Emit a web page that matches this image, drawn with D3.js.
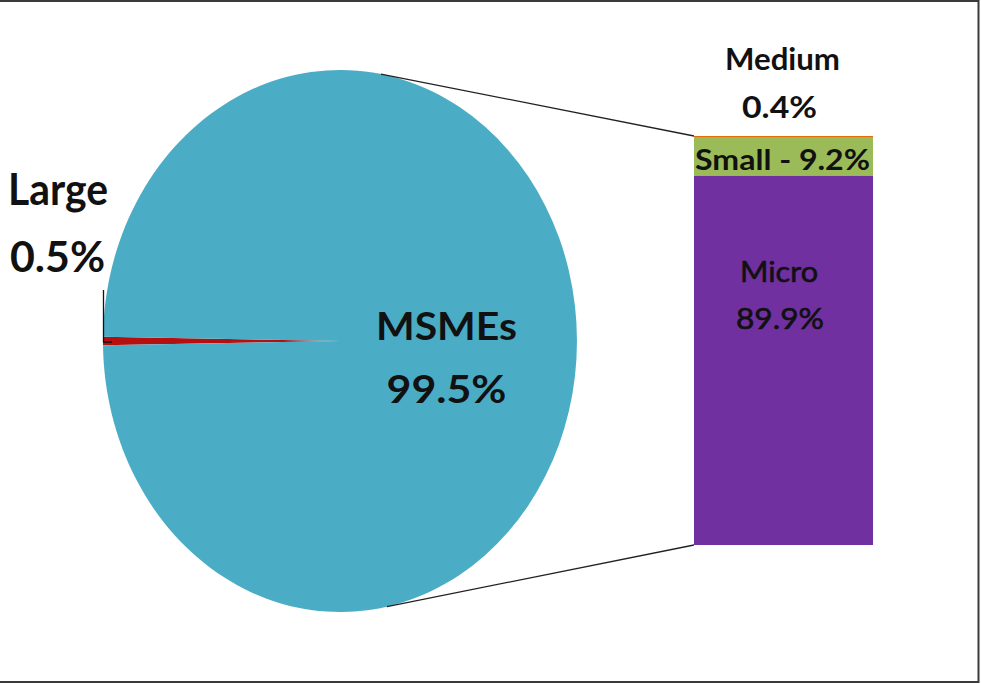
<!DOCTYPE html>
<html>
<head>
<meta charset="utf-8">
<script src="https://cdn.jsdelivr.net/npm/d3@7"></script>
<style>
  html, body { margin: 0; padding: 0; background: #fff; }
  svg { display: block; }
  text { font-family: Lato, "Open Sans", "Noto Sans", sans-serif; }
</style>
</head>
<body>
<svg id="chart" width="981" height="684"></svg>
<script>
// Enterprise share: large vs. MSMEs, with MSMEs broken down by size class
const pieLabels = ["Large", "MSMEs"];
const pieValues = [0.5, 99.5];
const pieColors = ["#B50F0F", "#4BACC6"];

const barLabels = ["Micro", "Small", "Medium"];
const barValues = [89.9, 9.2, 0.4];
const barColors = ["#7030A0", "#9BBB59", "#E46C0A"];

const svg = d3.select("#chart");
const W = 981, H = 684;

// frame
svg.append("rect").attr("x", 0).attr("y", 0).attr("width", W).attr("height", H).attr("fill", "#fff");
svg.append("path")
  .attr("d", `M0,1 H978.5 V682 H0`)
  .attr("fill", "none").attr("stroke", "#3a3a3a").attr("stroke-width", 2);

// ---- pie (drawn on a unit circle, then stretched to an ellipse) ----
const cx = 340, cy = 341, rx = 237, ry = 271;
const delta = pieValues[0] / d3.sum(pieValues) * 2 * Math.PI;
const pie = d3.pie().sort(null)
  .startAngle(-Math.PI / 2 - delta / 2)
  .endAngle(3 * Math.PI / 2 - delta / 2);
const arcs = pie(pieValues);
const arc = d3.arc().innerRadius(0).outerRadius(1);

const pieG = svg.append("g").attr("transform", `translate(${cx},${cy}) scale(${rx},${ry})`);
pieG.selectAll("path").data(arcs).join("path")
  .attr("d", arc)
  .attr("fill", (d, i) => pieColors[i]);

// ---- stacked bar ----
const bx0 = 694, bx1 = 873;
const y = d3.scaleLinear().domain([0, d3.sum(barValues)]).range([545, 136]);
let acc = 0;
const segs = barValues.map((v, i) => { const s = { i, y0: acc, y1: acc + v }; acc += v; return s; });
svg.append("g").selectAll("rect").data(segs).join("rect")
  .attr("x", bx0).attr("width", bx1 - bx0)
  .attr("y", d => y(d.y1))
  .attr("height", d => y(d.y0) - y(d.y1))
  .attr("fill", d => barColors[d.i]);

// ---- connector lines from the pie to the bar ----
function ellipseY(x, sign) {
  const dx = (x - cx) / rx;
  return cy + sign * ry * Math.sqrt(Math.max(0, 1 - dx * dx));
}
const topX = 381, botX = 387;
svg.append("line")
  .attr("x1", topX).attr("y1", ellipseY(topX, -1))
  .attr("x2", bx0).attr("y2", y(d3.sum(barValues)))
  .attr("stroke", "#222").attr("stroke-width", 1.3);
svg.append("line")
  .attr("x1", botX).attr("y1", ellipseY(botX, 1))
  .attr("x2", bx0).attr("y2", y(0))
  .attr("stroke", "#222").attr("stroke-width", 1.3);

// leader for the Large slice
svg.append("path")
  .attr("d", `M103.5,290 V342 H112`)
  .attr("fill", "none").attr("stroke", "#111").attr("stroke-width", 1.3);

// ---- labels ----
function label(txt, x, yb, size, weight, width, anchor, thicken) {
  const t = svg.append("text")
    .attr("x", x).attr("y", yb)
    .attr("text-anchor", anchor || "middle")
    .attr("font-size", size).attr("font-weight", weight)
    .attr("fill", "#111")
    .text(txt);
  if (width) t.attr("textLength", width).attr("lengthAdjust", "spacingAndGlyphs");
  if (thicken) t.attr("stroke", "#111").attr("stroke-width", thicken);
  return t;
}
const fmt = v => v.toFixed(1) + "%";

label(pieLabels[0], 8, 205, 44, "bold", 100, "start");
label(fmt(pieValues[0]), 10, 272, 42, "bold", 95, "start");
label(pieLabels[1], 446.5, 340, 39, "bold", 141);
label(fmt(pieValues[1]), 446.5, 403, 39, "bold", 120);

label(barLabels[2], 782.5, 70, 31, "bold", 115);
label(fmt(barValues[2]), 779.5, 118, 31, "bold", 75);
label(`${barLabels[1]} - ${fmt(barValues[1])}`, 782.5, 170, 28, "bold", 175);
label(barLabels[0], 779, 282, 28, "normal", 78, "middle", 0.6);
label(fmt(barValues[0]), 780, 329, 28, "normal", 88, "middle", 0.6);
</script>
</body>
</html>
